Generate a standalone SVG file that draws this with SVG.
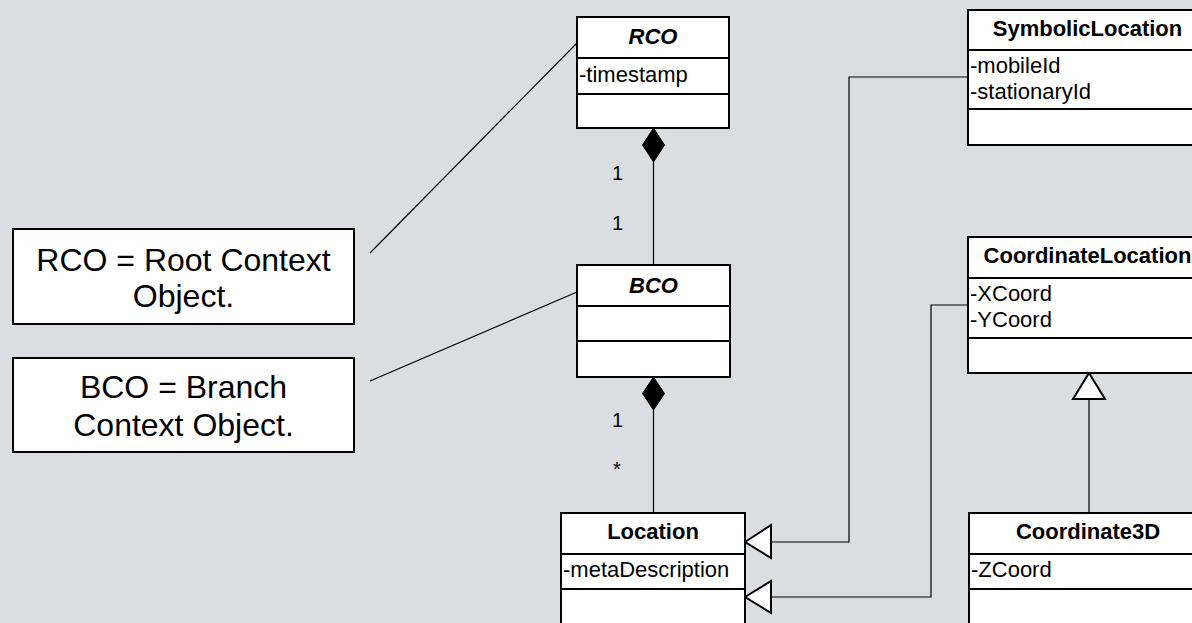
<svg xmlns="http://www.w3.org/2000/svg" width="1192" height="623" viewBox="0 0 1192 623">
<defs>
<style>
.box{fill:#ffffff;stroke:#000;stroke-width:2}
.div{stroke:#000;stroke-width:2}
.ln{fill:none;stroke:#000;stroke-width:1.2}
.t{font-family:"Liberation Sans",Arial,sans-serif;font-size:22px;fill:#000}
.h{font-family:"Liberation Sans",Arial,sans-serif;font-size:22px;font-weight:bold;fill:#000;text-anchor:middle}
.hi{font-style:italic}
.n{font-family:"Liberation Sans",Arial,sans-serif;font-size:32px;fill:#000;text-anchor:middle}
.m{font-family:"Liberation Sans",Arial,sans-serif;font-size:20px;fill:#000}
.dia{fill:#000;stroke:#000;stroke-width:1}
.tri{fill:#fff;stroke:#000;stroke-width:2}
</style>
</defs>
<rect width="1192" height="623" fill="#dadde2"/>
<g id="connectors">
<line class="ln" x1="370" y1="253" x2="577" y2="43"/>
<line class="ln" x1="370" y1="381" x2="577" y2="292"/>
<line class="ln" x1="653.5" y1="162" x2="653.5" y2="265"/>
<polygon class="dia" points="653.5,128 664.5,145 653.5,162 642.5,145"/>
<line class="ln" x1="653.5" y1="410" x2="653.5" y2="513"/>
<polygon class="dia" points="653.5,377 664.5,393.5 653.5,410 642.5,393.5"/>
<polyline class="ln" points="771,542 849,542 849,77 968,77"/>
<polygon class="tri" points="745,542 771,525 771,558"/>
<polyline class="ln" points="771,597 931,597 931,305 968,305"/>
<polygon class="tri" points="745,597 771,581 771,613"/>
<line class="ln" x1="1089" y1="399" x2="1089" y2="513"/>
<polygon class="tri" points="1089,373 1105,399 1073,399"/>
<text class="m" x="612" y="180">1</text>
<text class="m" x="612" y="230">1</text>
<text class="m" x="612" y="427">1</text>
<text class="m" x="613" y="476">*</text>
</g>
<g id="note-rco">
<rect class="box" x="13" y="229" width="341" height="95"/>
<text class="n" x="183.5" y="271">RCO = Root Context</text>
<text class="n" x="183.5" y="307">Object.</text>
</g>
<g id="note-bco">
<rect class="box" x="13" y="358" width="341" height="94"/>
<text class="n" x="183.5" y="398">BCO = Branch</text>
<text class="n" x="183.5" y="436">Context Object.</text>
</g>
<g id="RCO">
<rect class="box" x="577" y="17" width="152" height="111"/>
<line class="div" x1="577" y1="58" x2="729" y2="58"/>
<line class="div" x1="577" y1="94" x2="729" y2="94"/>
<text class="h hi" x="653" y="44">RCO</text>
<text class="t" x="579" y="82">-timestamp</text>
</g>
<g id="BCO">
<rect class="box" x="577" y="265" width="153" height="112"/>
<line class="div" x1="577" y1="306" x2="730" y2="306"/>
<line class="div" x1="577" y1="341" x2="730" y2="341"/>
<text class="h hi" x="653.5" y="293">BCO</text>
</g>
<g id="Location">
<rect class="box" x="561" y="513" width="184" height="120"/>
<line class="div" x1="561" y1="554" x2="745" y2="554"/>
<line class="div" x1="561" y1="589" x2="745" y2="589"/>
<text class="h" x="653" y="539">Location</text>
<text class="t" x="563" y="577">-metaDescription</text>
</g>
<g id="SymbolicLocation">
<rect class="box" x="968" y="10" width="240" height="135"/>
<line class="div" x1="968" y1="50" x2="1208" y2="50"/>
<line class="div" x1="968" y1="109" x2="1208" y2="109"/>
<text class="h" x="1087.5" y="36">SymbolicLocation</text>
<text class="t" x="970" y="73">-mobileId</text>
<text class="t" x="970" y="99">-stationaryId</text>
</g>
<g id="CoordinateLocation">
<rect class="box" x="968" y="237" width="240" height="136"/>
<line class="div" x1="968" y1="278" x2="1208" y2="278"/>
<line class="div" x1="968" y1="338" x2="1208" y2="338"/>
<text class="h" x="1087.5" y="263">CoordinateLocation</text>
<text class="t" x="970" y="301">-XCoord</text>
<text class="t" x="970" y="327">-YCoord</text>
</g>
<g id="Coordinate3D">
<rect class="box" x="969" y="513" width="240" height="120"/>
<line class="div" x1="969" y1="554" x2="1209" y2="554"/>
<line class="div" x1="969" y1="589" x2="1209" y2="589"/>
<text class="h" x="1088" y="539">Coordinate3D</text>
<text class="t" x="971" y="577">-ZCoord</text>
</g>
</svg>
